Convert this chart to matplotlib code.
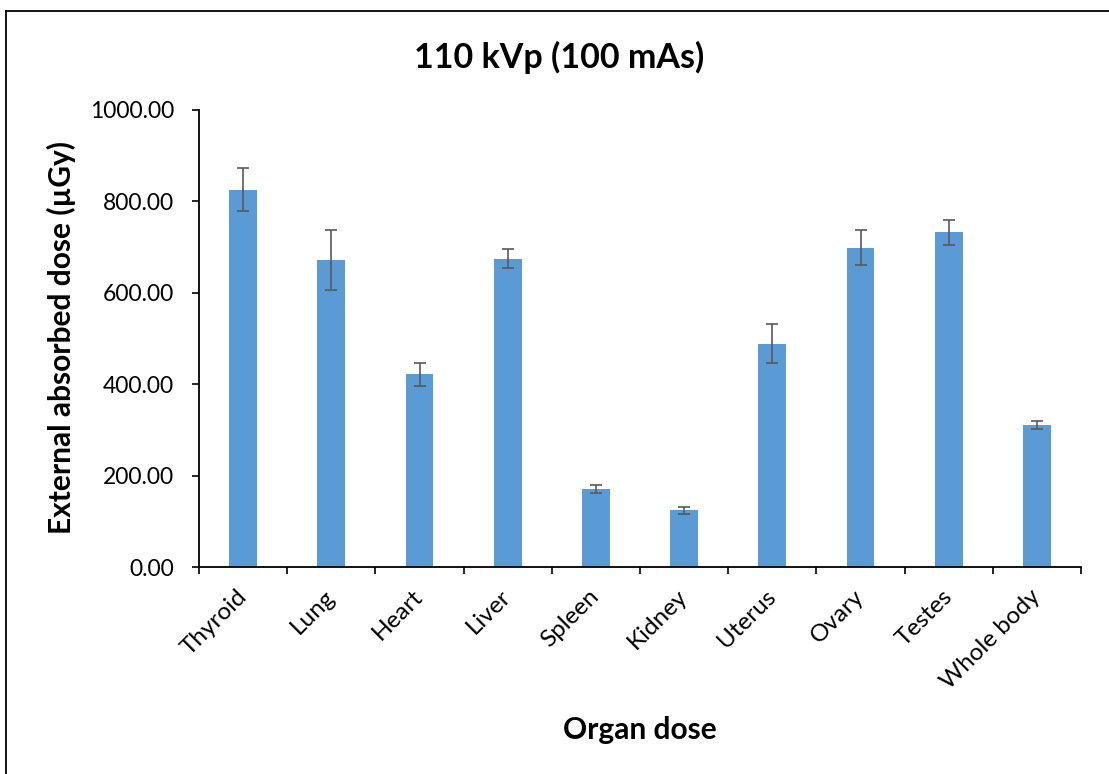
import matplotlib
matplotlib.use("Agg")
import matplotlib.pyplot as plt
import matplotlib.transforms as mtransforms
from matplotlib.ticker import FormatStrFormatter, FixedLocator
from matplotlib.lines import Line2D

# Organ doses at 110 kVp, 100 mAs
organs = ["Thyroid", "Lung", "Heart", "Liver", "Spleen", "Kidney",
          "Uterus", "Ovary", "Testes", "Whole body"]
dose_mean = [825, 672, 422, 675, 171, 124, 489, 699, 732, 311]
dose_err = [47, 66, 25, 20, 8.5, 8, 42, 38, 27, 8.5]
y_ticks = [0, 200, 400, 600, 800, 1000]

plt.rcParams["font.family"] = ["Lato", "DejaVu Sans"]

W, H = 1109, 774
fig = plt.figure(figsize=(W / 100, H / 100), dpi=100)
fig.patch.set_facecolor("white")

# axes placed in pixel terms of the figure
left, right, bottom, top = 199, 1081, 567, 110
ax = fig.add_axes([left / W, 1 - bottom / H, (right - left) / W, (bottom - top) / H])

x = list(range(len(organs)))
ax.bar(x, dose_mean, width=0.315, color="#5B9BD5", zorder=2)
ax.errorbar(x, dose_mean, yerr=dose_err, fmt="none", ecolor="#595959",
            elinewidth=1.2, capsize=4.5, capthick=1.2, zorder=3)

ax.set_xlim(-0.5, len(organs) - 0.5)
ax.set_ylim(0, 1000)
ax.set_yticks(y_ticks)
ax.yaxis.set_major_formatter(FormatStrFormatter("%.2f"))

# category labels at bar centres, tick marks on category boundaries
ax.set_xticks(x)
ax.set_xticklabels(organs, rotation=45, ha="right", va="center",
                   rotation_mode="anchor")
shift = mtransforms.ScaledTranslation(0.05, -0.02, fig.dpi_scale_trans)
for lbl in ax.get_xticklabels():
    lbl.set_transform(lbl.get_transform() + shift)
ax.xaxis.set_minor_locator(FixedLocator([i - 0.5 for i in range(len(organs) + 1)]))
ax.tick_params(axis="x", which="major", length=0, pad=19, labelsize=17.5)
ax.tick_params(axis="x", which="minor", length=5, width=1.2, direction="out", color="black")
ax.tick_params(axis="y", length=5, width=1.2, direction="out", labelsize=16.5, pad=13)

for side in ("top", "right"):
    ax.spines[side].set_visible(False)
for side in ("left", "bottom"):
    ax.spines[side].set_linewidth(1.3)
    ax.spines[side].set_color("black")

fig.text(559 / W, 1 - 57 / H, "110 kVp (100 mAs)", ha="center", va="center",
         fontsize=24.5, fontweight="bold")
fig.text(61 / W, 1 - 338 / H, "External absorbed dose (µGy)", ha="center",
         va="center", rotation=90, fontsize=21.5, fontweight="bold")
fig.text(640 / W, 1 - 730 / H, "Organ dose", ha="center", va="center",
         fontsize=21.5, fontweight="bold")

# chart frame along the left and top edges
fig.add_artist(Line2D([6 / W, 6 / W], [0, 1 - 10.5 / H], transform=fig.transFigure,
                      color="black", lw=1.3))
fig.add_artist(Line2D([6 / W, 1], [1 - 10.5 / H, 1 - 10.5 / H], transform=fig.transFigure,
                      color="black", lw=1.3))

fig.savefig("out.png", dpi=100)
